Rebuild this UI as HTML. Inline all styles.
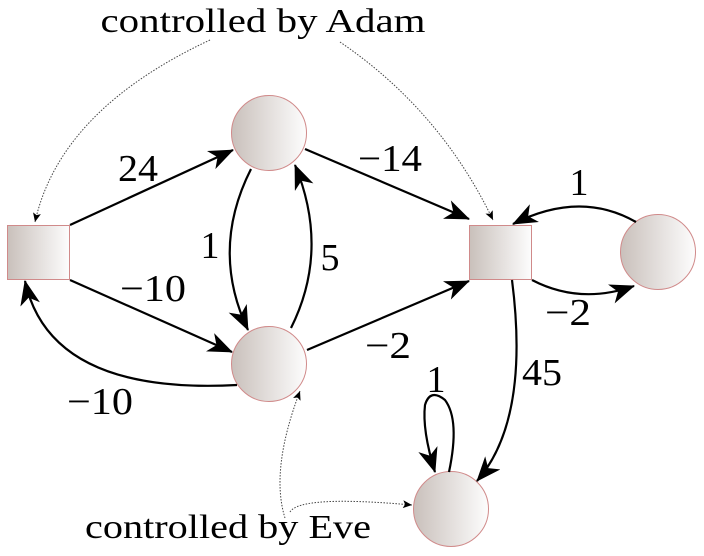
<!DOCTYPE html>
<html><head><style>body{margin:0;background:#fff}svg{display:block}text{font-family:"Liberation Serif","DejaVu Serif",serif}</style></head><body>
<svg width="704" height="556" viewBox="0 0 704 556" xmlns="http://www.w3.org/2000/svg">
<defs>
<linearGradient id="g" x1="0" x2="1" y1="0" y2="0"><stop offset="0" stop-color="#c9c0bb"/><stop offset="1" stop-color="#fdfdfd"/></linearGradient>
<marker id="a" markerWidth="26" markerHeight="20" refX="24" refY="10" orient="auto" markerUnits="userSpaceOnUse"><path d="M0,0 L25,10 L0,20 L7,10 z" fill="#000"/></marker>
<marker id="d" markerWidth="10" markerHeight="8" refX="9" refY="4" orient="auto" markerUnits="userSpaceOnUse"><path d="M0,0 L9,4 L0,8 L2,4 z" fill="#000"/></marker>
</defs>
<g fill="url(#g)" stroke="#d08a8a" stroke-width="1">
<rect x="7.5" y="225.5" width="62" height="54"/>
<rect x="469.5" y="225.5" width="62" height="54"/>
<circle cx="269" cy="133" r="37.5"/>
<circle cx="269" cy="364" r="37.5"/>
<circle cx="658" cy="252" r="37.5"/>
<circle cx="451" cy="509" r="37.5"/>
</g>
<g fill="none" stroke="#000" stroke-width="2.2" marker-end="url(#a)">
<path d="M70,225 L233,150"/>
<path d="M70,280 L232,352"/>
<path d="M305,149 L469,219"/>
<path d="M307,350 L469,281"/>
<path d="M251,169 Q210,250 248,330"/>
<path d="M291,328 Q330,250 295,165"/>
<path d="M237,385 Q50,395 25,281"/>
<path d="M636,222 Q580,190 513,224"/>
<path d="M532,280 Q580,305 634,286"/>
<path d="M512,280 Q530,420 477,481"/>
<path d="M449,472 Q460,420 445,400 Q430,388 425,405 Q422,430 435,472"/>
</g>
<g fill="none" stroke="#444" stroke-width="1" stroke-dasharray="1.5,1.5" marker-end="url(#d)">
<path d="M210,40 Q60,110 35,222"/>
<path d="M340,42 Q440,110 493,220"/>
<path d="M285,518 Q270,470 300,391"/>
<path d="M290,512 Q300,495 412,505"/>
</g>
<g font-size="34" text-anchor="middle" fill="#000">
<text x="263" y="32" textLength="325" lengthAdjust="spacingAndGlyphs">controlled by Adam</text>
<text x="228" y="538" textLength="286" lengthAdjust="spacingAndGlyphs">controlled by Eve</text>
</g>
<g font-size="38" text-anchor="middle" fill="#000">
<text x="138" y="181" textLength="40" lengthAdjust="spacingAndGlyphs">24</text>
<text x="390" y="171" textLength="64" lengthAdjust="spacingAndGlyphs">−14</text>
<text x="210" y="258">1</text>
<text x="330" y="270">5</text>
<text x="153" y="301" textLength="66" lengthAdjust="spacingAndGlyphs">−10</text>
<text x="388" y="358" textLength="46" lengthAdjust="spacingAndGlyphs">−2</text>
<text x="100" y="414" textLength="66" lengthAdjust="spacingAndGlyphs">−10</text>
<text x="579" y="195">1</text>
<text x="568" y="325" textLength="46" lengthAdjust="spacingAndGlyphs">−2</text>
<text x="542" y="385" textLength="40" lengthAdjust="spacingAndGlyphs">45</text>
<text x="436" y="392">1</text>
</g>
</svg>
</body></html>
